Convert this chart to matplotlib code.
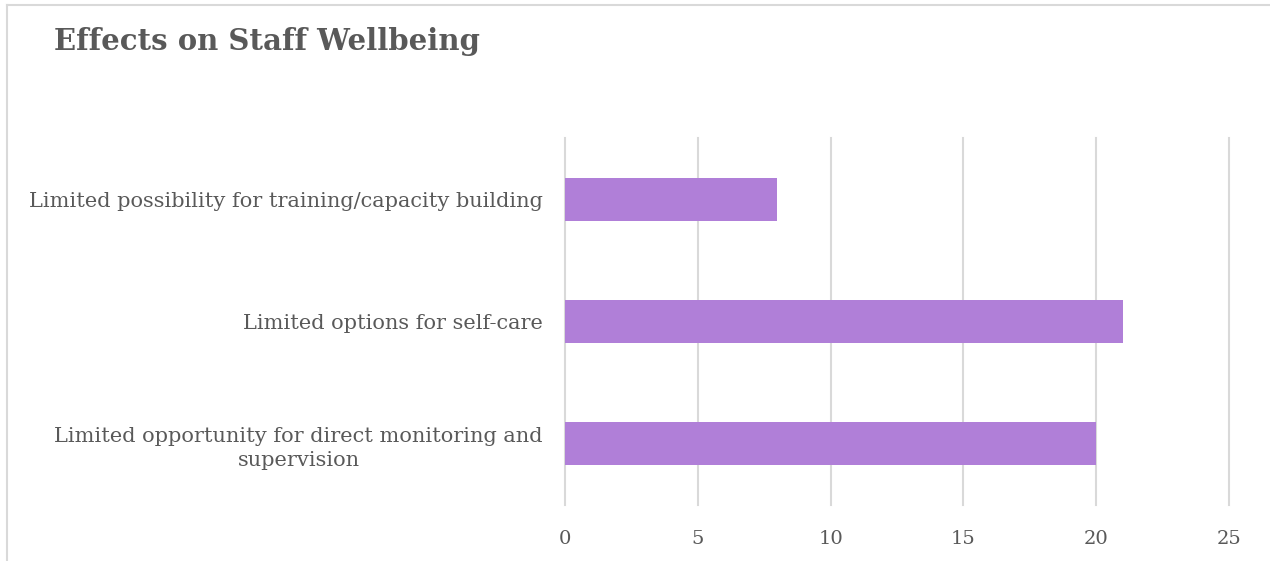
import matplotlib
matplotlib.use("Agg")
import matplotlib.pyplot as plt
from matplotlib.lines import Line2D

categories = ["Limited opportunity for direct monitoring and\nsupervision",
              "Limited options for self-care",
              "Limited possibility for training/capacity building"]
values = [20, 21, 8]
xticks = [0, 5, 10, 15, 20, 25]

txt = "#595959"
fam = ["DejaVu Serif"]

fig = plt.figure(figsize=(12.7, 5.61), dpi=100)
ax = fig.add_axes([565/1270, 1-505/561, (1229-565)/1270, (505-138)/561])
ax.barh(range(len(values)), values, height=0.35, color="#B07FD8", zorder=3)
ax.set_xlim(0, 25)
ax.set_ylim(-0.5, 2.5)
ax.set_xticks(xticks)
ax.set_xticklabels([str(t) for t in xticks], family=fam, fontsize=14, color=txt)
ax.set_yticks(range(len(categories)))
ax.set_yticklabels(categories, family=fam, fontsize=15, color=txt, multialignment="center",
                   linespacing=1.35)
ax.grid(axis="x", color="#D9D9D9", linewidth=1.5, zorder=0)
ax.set_axisbelow(True)
for gl in ax.get_xgridlines():
    gl.set_clip_on(False)
for s in ax.spines.values():
    s.set_visible(False)
ax.tick_params(axis="both", length=0)
ax.tick_params(axis="x", pad=18)
ax.tick_params(axis="y", pad=16)

fig.text(54/1270, 1-41/561, "Effects on Staff Wellbeing", family=fam, fontsize=21,
         fontweight="bold", color=txt, va="center", ha="left")

fig.add_artist(Line2D([7/1270, 1], [1-5/561, 1-5/561], color="#D9D9D9", linewidth=1.5))
fig.add_artist(Line2D([7/1270, 7/1270], [0, 1-5/561], color="#D9D9D9", linewidth=1.5))

fig.savefig("out.png", dpi=100, facecolor="white")
